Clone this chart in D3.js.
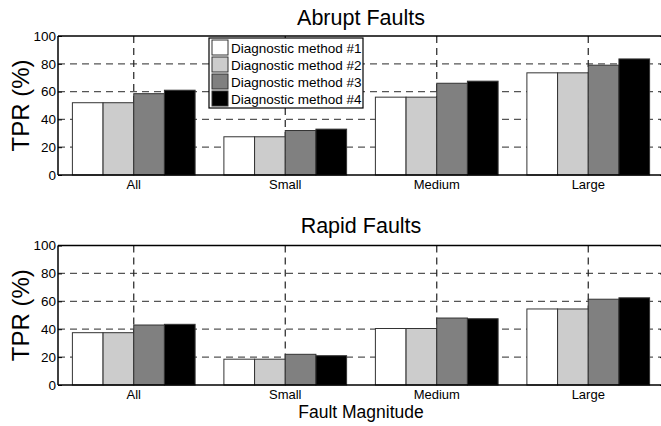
<!DOCTYPE html>
<html>
<head>
<meta charset="utf-8">
<script src="https://cdn.jsdelivr.net/npm/d3@7"></script>
<style>
  body { margin: 0; background: #fff; }
  svg { display: block; font-family: Arial, "Liberation Sans", sans-serif; }
</style>
</head>
<body>
<div id="chart"></div>
<script>
const categories = ["All", "Small", "Medium", "Large"];
const methods = ["Diagnostic method #1", "Diagnostic method #2", "Diagnostic method #3", "Diagnostic method #4"];
const methodColors = ["#ffffff", "#cccccc", "#808080", "#000000"];
const yTicks = [0, 20, 40, 60, 80, 100];

// TPR (%) per method, in category order
const abrupt1 = [52, 27.5, 56, 73.5];
const abrupt2 = [52, 27.5, 56, 73.5];
const abrupt3 = [58.5, 32, 66, 79];
const abrupt4 = [61, 33, 67.5, 83.5];

const rapid1 = [37.5, 18.5, 40.5, 54.5];
const rapid2 = [37.5, 18.5, 40.5, 54.5];
const rapid3 = [43, 22, 48, 61.5];
const rapid4 = [43.5, 21, 47.5, 62.5];

const width = 661, height = 426;
const svg = d3.select("#chart").append("svg")
    .attr("width", width)
    .attr("height", height);

const left = 58, right = 664;

const x0 = d3.scaleBand()
    .domain(categories)
    .range([left, right])
    .paddingInner(0.19)
    .paddingOuter(0.095);

const x1 = d3.scaleBand()
    .domain(d3.range(methods.length))
    .range([0, x0.bandwidth()]);

function panel(title, series, top, bottom, titleY, showLegend) {
    const y = d3.scaleLinear().domain([0, 100]).range([bottom, top]);
    const g = svg.append("g");

    // grid
    g.selectAll(".hgrid")
        .data(yTicks.filter(t => t > 0 && t < 100))
        .join("line")
        .attr("x1", left).attr("x2", right)
        .attr("y1", d => y(d)).attr("y2", d => y(d))
        .attr("stroke", "#555")
        .attr("stroke-width", 1.2)
        .attr("stroke-dasharray", "7,5");

    g.selectAll(".vgrid")
        .data(categories)
        .join("line")
        .attr("x1", d => x0(d) + x0.bandwidth() / 2)
        .attr("x2", d => x0(d) + x0.bandwidth() / 2)
        .attr("y1", top).attr("y2", bottom)
        .attr("stroke", "#222")
        .attr("stroke-width", 1.2)
        .attr("stroke-dasharray", "7,5");

    // bars
    const rows = categories.map((c, i) => series.map((s, j) => ({cat: c, m: j, v: s[i]})));
    g.selectAll(".grp")
        .data(rows)
        .join("g")
        .attr("transform", (d, i) => `translate(${x0(categories[i])},0)`)
        .selectAll("rect")
        .data(d => d)
        .join("rect")
        .attr("x", d => x1(d.m))
        .attr("width", x1.bandwidth())
        .attr("y", d => y(d.v))
        .attr("height", d => y(0) - y(d.v))
        .attr("fill", d => methodColors[d.m])
        .attr("stroke", "#333")
        .attr("stroke-width", 1);

    // axes
    const yAxis = g.append("g")
        .attr("transform", `translate(${left},0)`)
        .call(d3.axisLeft(y).tickValues(yTicks).tickSize(-4).tickPadding(2));
    yAxis.select(".domain").remove();
    yAxis.selectAll("text").attr("font-size", 13.5).attr("fill", "#000");

    const yAxisR = g.append("g")
        .attr("transform", `translate(${right},0)`)
        .call(d3.axisRight(y).tickValues(yTicks).tickSize(-4).tickFormat(""));
    yAxisR.select(".domain").remove();

    const xAxis = g.append("g")
        .attr("transform", `translate(0,${bottom})`)
        .call(d3.axisBottom(x0).tickSize(0).tickPadding(5));
    xAxis.select(".domain").remove();
    xAxis.selectAll("text").attr("font-size", 13).attr("fill", "#000");

    // box
    g.append("line").attr("x1", left).attr("x2", right).attr("y1", top).attr("y2", top)
        .attr("stroke", "#000").attr("stroke-width", 1.5);
    g.append("line").attr("x1", left).attr("x2", right).attr("y1", bottom).attr("y2", bottom)
        .attr("stroke", "#000").attr("stroke-width", 1.5);
    g.append("line").attr("x1", left).attr("x2", left).attr("y1", top).attr("y2", bottom)
        .attr("stroke", "#000").attr("stroke-width", 1.5);

    g.append("text")
        .attr("x", (left + right) / 2)
        .attr("y", titleY)
        .attr("text-anchor", "middle")
        .attr("font-size", 21.5)
        .text(title);

    g.append("text")
        .attr("transform", `translate(29,${(top + bottom) / 2}) rotate(-90)`)
        .attr("text-anchor", "middle")
        .attr("font-size", 24)
        .text("TPR (%)");

    if (showLegend) {
        const lx = 209, ly = 38, lw = 154, rowH = 17;
        const lg = g.append("g");
        lg.append("rect")
            .attr("x", lx).attr("y", ly)
            .attr("width", lw).attr("height", rowH * methods.length + 2)
            .attr("fill", "#fff").attr("stroke", "#000").attr("stroke-width", 1.2);
        const item = lg.selectAll(".item")
            .data(methods)
            .join("g")
            .attr("transform", (d, i) => `translate(${lx + 3},${ly + 2 + i * rowH})`);
        item.append("rect")
            .attr("width", 16).attr("height", 15)
            .attr("fill", (d, i) => methodColors[i])
            .attr("stroke", "#333");
        item.append("text")
            .attr("x", 19).attr("y", 12.5)
            .attr("font-size", 13.5)
            .text(d => d);
    }
}

panel("Abrupt Faults", [abrupt1, abrupt2, abrupt3, abrupt4], 36, 175, 25, true);
panel("Rapid Faults", [rapid1, rapid2, rapid3, rapid4], 245.5, 385, 233, false);

svg.append("text")
    .attr("x", (left + right) / 2)
    .attr("y", 418)
    .attr("text-anchor", "middle")
    .attr("font-size", 17.5)
    .text("Fault Magnitude");
</script>
</body>
</html>
